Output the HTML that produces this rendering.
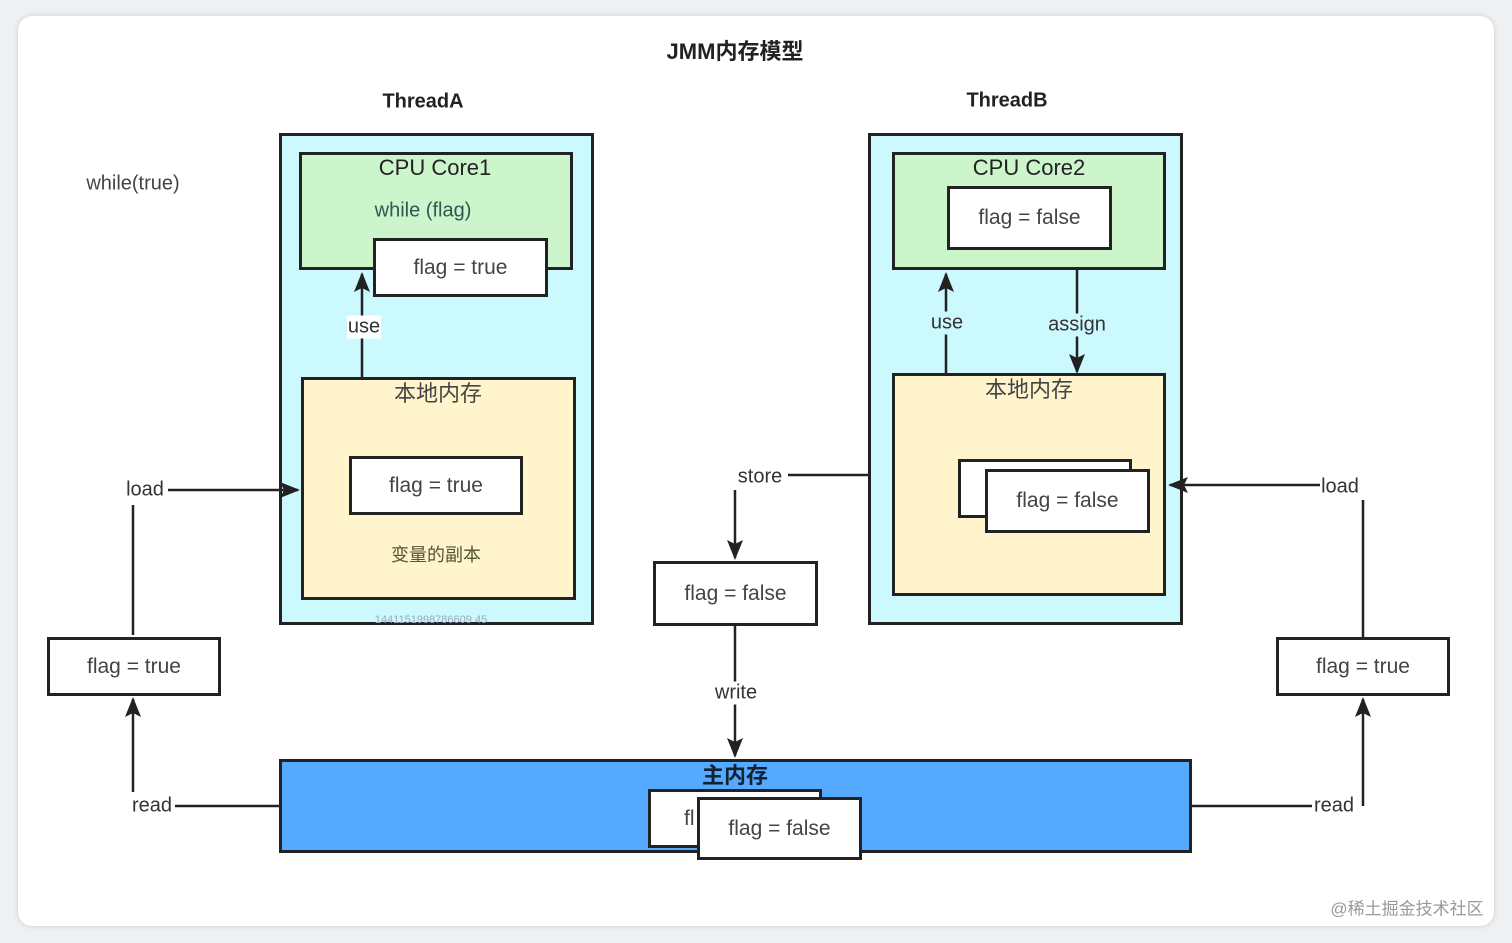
<!DOCTYPE html>
<html><head><meta charset="utf-8"><style>
body{margin:0;width:1512px;height:943px;background:#eef0f2;position:relative;overflow:hidden;font-family:"Liberation Sans","Noto Sans CJK SC",sans-serif;color:#333}
.card{position:absolute;left:18px;top:16px;width:1476px;height:910px;background:#fff;border-radius:14px;box-shadow:0 0 6px rgba(0,0,0,.15)}
.b{position:absolute;border:3px solid #222;box-sizing:border-box}
.t{position:absolute;white-space:nowrap;font-size:20px;transform:translate(-50%,-50%);background:#fff;padding:0 1px}
.nb{background:transparent}
.w{background:#fff;display:flex;align-items:center;justify-content:center;font-size:21px;color:#444}
</style></head><body>
<div class="card"></div>
<div class="t nb" style="left:735px;top:50px;font-weight:bold;font-size:22px;color:#222">JMM内存模型</div>
<div class="t nb" style="left:423px;top:102px;font-weight:bold;color:#222">ThreadA</div>
<div class="t nb" style="left:1007px;top:101px;font-weight:bold;color:#222">ThreadB</div>
<div class="t nb" style="left:133px;top:184px;color:#444">while(true)</div>

<div class="b" style="left:279px;top:133px;width:315px;height:492px;background:#ccf9fd"></div>
<div class="b" style="left:299px;top:152px;width:274px;height:118px;background:#ccf5cc"></div>
<div class="t nb" style="left:435px;top:168px;font-size:22px;color:#222">CPU Core1</div>
<div class="t nb" style="left:423px;top:211px;color:#355">while (flag)</div>
<div class="b w" style="left:373px;top:238px;width:175px;height:59px">flag = true</div>
<div class="b" style="left:301px;top:377px;width:275px;height:223px;background:#fff4cc"></div>
<div class="t nb" style="left:438px;top:392px;font-size:22px;color:#444">本地内存</div>
<div class="b w" style="left:349px;top:456px;width:174px;height:59px">flag = true</div>
<div class="t nb" style="left:436px;top:554px;font-size:18px;color:#553">变量的副本</div>
<div class="t nb" style="left:431px;top:620px;font-size:11px;color:#9ab">1441151998786609 45</div>

<div class="b" style="left:868px;top:133px;width:315px;height:492px;background:#ccf9fd"></div>
<div class="b" style="left:892px;top:152px;width:274px;height:118px;background:#ccf5cc"></div>
<div class="t nb" style="left:1029px;top:168px;font-size:22px;color:#222">CPU Core2</div>
<div class="b w" style="left:947px;top:186px;width:165px;height:64px">flag = false</div>
<div class="b" style="left:892px;top:373px;width:274px;height:223px;background:#fff4cc"></div>
<div class="t nb" style="left:1029px;top:388px;font-size:22px;color:#444">本地内存</div>
<div class="b w" style="left:958px;top:459px;width:174px;height:59px"></div>
<div class="b w" style="left:985px;top:469px;width:165px;height:64px">flag = false</div>

<div class="b w" style="left:653px;top:561px;width:165px;height:65px">flag = false</div>
<div class="b w" style="left:47px;top:637px;width:174px;height:59px">flag = true</div>
<div class="b w" style="left:1276px;top:637px;width:174px;height:59px">flag = true</div>

<div class="b" style="left:279px;top:759px;width:913px;height:94px;background:#55aaff"></div>
<div class="t nb" style="left:735px;top:774px;font-weight:bold;font-size:22px;color:#123">主内存</div>
<div class="b w" style="left:648px;top:789px;width:174px;height:59px;justify-content:flex-start;padding-left:33px">fl</div>
<div class="b w" style="left:697px;top:797px;width:165px;height:63px">flag = false</div>

<svg width="1512" height="943" style="position:absolute;left:0;top:0" fill="none" stroke="#222" stroke-width="2.5">
<defs><marker id="a" markerWidth="8" markerHeight="8" refX="7" refY="4" orient="auto" markerUnits="userSpaceOnUse" viewBox="0 0 8 8"><path d="M0,0L8,4L0,8z" fill="#222" stroke="none"/></marker>
<marker id="m" markerWidth="20" markerHeight="16" refX="18" refY="8" orient="auto" markerUnits="userSpaceOnUse"><path d="M0,0L20,8L0,16L4,8z" fill="#222" stroke="none"/></marker></defs>
<path d="M133 635V505M168 490H298" marker-end="url(#m)"/>
<path d="M175 806H279"/><path d="M133 792V699" marker-end="url(#m)"/>
<path d="M362 377V274" marker-end="url(#m)"/>
<path d="M946 373V274" marker-end="url(#m)"/>
<path d="M1077 270V372" marker-end="url(#m)"/>
<path d="M788 475H868"/><path d="M735 490V558" marker-end="url(#m)"/>
<path d="M735 626V756" marker-end="url(#m)"/>
<path d="M1320 485H1170" marker-end="url(#m)"/><path d="M1363 500V637"/>
<path d="M1192 806H1312"/><path d="M1363 806V699" marker-end="url(#m)"/>
</svg>
<div class="t" style="left:145px;top:490px">load</div>
<div class="t" style="left:152px;top:806px">read</div>
<div class="t" style="left:364px;top:327px">use</div>
<div class="t" style="left:947px;top:323px;background:#ccf9fd">use</div>
<div class="t" style="left:1077px;top:325px;background:#ccf9fd">assign</div>
<div class="t" style="left:760px;top:477px">store</div>
<div class="t" style="left:736px;top:693px">write</div>
<div class="t" style="left:1340px;top:487px">load</div>
<div class="t" style="left:1334px;top:806px">read</div>
<div class="t nb" style="left:1407px;top:907px;font-size:17px;color:#999">@稀土掘金技术社区</div>
</body></html>
